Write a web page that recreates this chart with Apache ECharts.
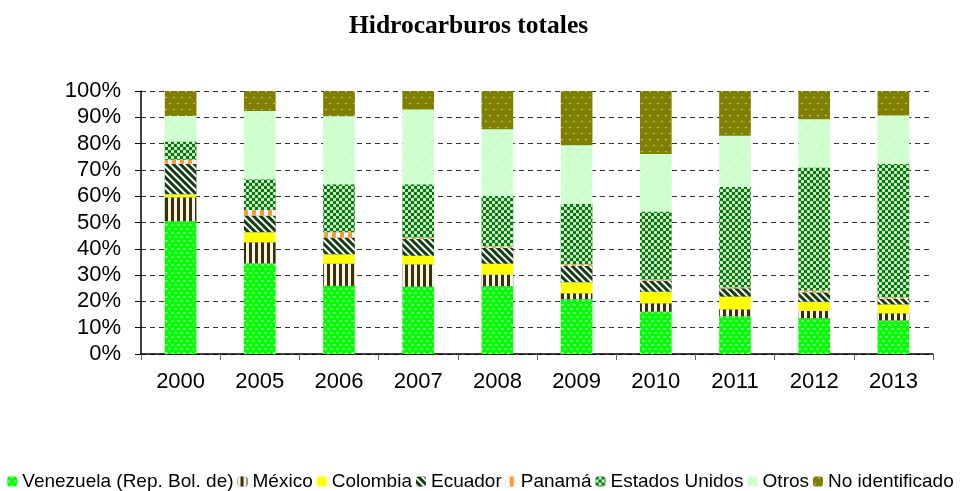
<!DOCTYPE html>
<html>
<head>
<meta charset="utf-8">
<script src="https://cdn.jsdelivr.net/npm/echarts@6/dist/echarts.min.js"></script>
<style>
html, body { margin: 0; padding: 0; background: #fff; }
#chart { width: 961px; height: 491px; }
</style>
</head>
<body>
<div id="chart"></div>
<script>
const years = ["2000", "2005", "2006", "2007", "2008", "2009", "2010", "2011", "2012", "2013"]
const yTicks = [0, 10, 20, 30, 40, 50, 60, 70, 80, 90, 100]

// shares in %
const venezuela = [50.5, 34.4, 25.9, 25.6, 25.8, 20.8, 16.1, 14.3, 13.6, 12.7]
const mexico    = [9.1, 8.1, 8.5, 8.5, 4.4, 2.3, 3.2, 2.7, 2.8, 2.8]
const colombia  = [1.1, 3.8, 3.5, 3.3, 4.1, 4.2, 4.4, 4.8, 3.5, 3.3]
const ecuador   = [11.6, 6.4, 6.4, 6.3, 6.1, 6.2, 4.2, 3.2, 3.6, 2.1]
const panama    = [1.6, 2.1, 2.0, 0.6, 0.6, 0.6, 0.4, 0.4, 0.6, 0.7]
const eeuu      = [6.9, 11.6, 18.2, 20.2, 19.2, 22.9, 25.9, 38.1, 46.8, 50.7]
const otros     = [9.7, 26.0, 25.9, 28.5, 25.3, 22.4, 21.8, 19.5, 18.4, 18.4]
const noIdent   = [9.5, 7.6, 9.6, 7.0, 14.5, 20.6, 24.0, 17.0, 10.7, 9.3]

const names = ["Venezuela (Rep. Bol. de)", "México", "Colombia", "Ecuador", "Panamá", "Estados Unidos", "Otros", "No identificado"]
const values = [venezuela, mexico, colombia, ecuador, panama, eeuu, otros, noIdent]

// fill colour + pattern for each series
const styles = [
    { color: "#00FF00", decal: { symbol: "rect", symbolSize: 0.7, color: "rgba(255,255,255,0.85)", dashArrayX: [[3, 3], [0, 3, 3, 0]], dashArrayY: [2, 2] } },
    { color: "#3A3300", decal: { symbol: "rect", symbolSize: 1, color: "#F4F4EC", dashArrayX: [3, 3], dashArrayY: [1, 0] } },
    { color: "#FFFF00", decal: { symbol: "circle", symbolSize: 0.5, color: "rgba(255,255,255,0.35)", dashArrayX: [3, 5], dashArrayY: [3, 5] } },
    { color: "#123D12", decal: { symbol: "rect", symbolSize: 1, color: "#FFFFFF", dashArrayX: [1, 0], dashArrayY: [2, 3], rotation: Math.PI / 4 } },
    { color: "#FF9933", decal: { symbol: "rect", symbolSize: 1, color: "#FFFFFF", dashArrayX: [4, 4], dashArrayY: [1, 0] } },
    { color: "#008000", decal: { symbol: "rect", symbolSize: 0.9, color: "#FFFFFF", dashArrayX: [[3, 3], [0, 3, 3, 0]], dashArrayY: [3, 0] } },
    { color: "#CCFFCC", decal: { symbol: "rect", symbolSize: 0.6, color: "rgba(255,255,255,0.8)", dashArrayX: [1, 0], dashArrayY: [2, 6], rotation: -Math.PI / 4 } },
    { color: "#808000", decal: { symbol: "circle", symbolSize: 0.5, color: "rgba(255,255,255,0.7)", dashArrayX: [[4, 4], [0, 4, 4, 0]], dashArrayY: [3, 3] } },
]

let chart = echarts.init(document.getElementById("chart"), null, { renderer: "canvas" })

let series = []
for (let i = 0; i < names.length; i++) {
    series.push({
        name: names[i],
        type: "bar",
        stack: "total",
        barWidth: "40%",
        data: values[i],
        itemStyle: { color: styles[i].color, decal: styles[i].decal },
    })
}

chart.setOption({
    animation: false,
    title: {
        text: "Hidrocarburos totales",
        left: 344,
        top: 8,
        textStyle: { fontFamily: "Liberation Serif", fontWeight: "bold", fontSize: 25.5, color: "#000" },
    },
    grid: { left: 141, right: 28, top: 91, bottom: 137, containLabel: false },
    legend: {
        top: 467,
        left: "center",
        itemWidth: 10,
        itemHeight: 10,
        itemGap: 4,
        selectedMode: false,
        textStyle: { fontFamily: "Liberation Sans", fontSize: 19, color: "#000" },
        data: names,
    },
    xAxis: {
        type: "category",
        data: years,
        axisLine: { lineStyle: { color: "#000", width: 1.5 } },
        axisTick: { show: true, length: 6, lineStyle: { color: "#666" } },
        axisLabel: { fontFamily: "Liberation Sans", fontSize: 22, color: "#000", margin: 17 },
    },
    yAxis: {
        type: "value",
        min: 0,
        max: 100,
        interval: 10,
        axisLine: { show: true, lineStyle: { color: "#000", width: 1.5 } },
        axisTick: { show: true, length: 6, lineStyle: { color: "#000" } },
        axisLabel: { fontFamily: "Liberation Sans", fontSize: 22, color: "#000", margin: 20, formatter: v => yTicks.includes(v) ? v + "%" : "" },
        splitLine: { lineStyle: { color: "#333", type: [5, 4], width: 1.2 } },
    },
    series: series,
})
</script>
</body>
</html>
